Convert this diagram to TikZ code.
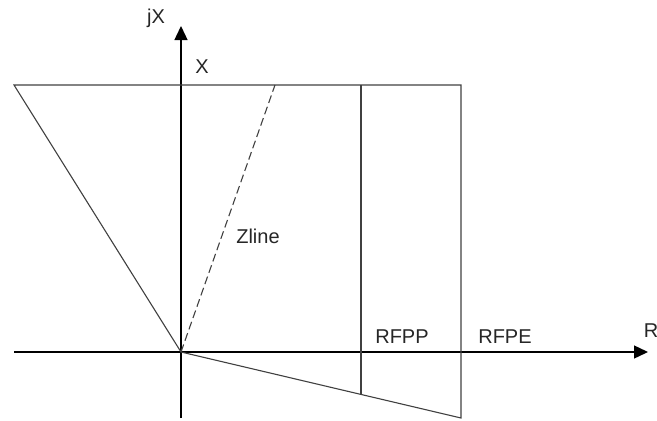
\documentclass[tikz,border=0pt]{standalone}
\usepackage{fontspec}
\setmainfont{Liberation Sans}
\usetikzlibrary{arrows.meta}
\begin{document}
\begin{tikzpicture}[x=1pt,y=-1pt,
  lbl/.style={font=\fontsize{20}{20}\selectfont, text=black!85, inner sep=0pt},
  axis/.style={line width=1.4pt, -{Triangle[length=14pt,width=13pt]}},
  thin/.style={line width=1.1pt, black!75}]
\useasboundingbox (0,0) rectangle (657,421);
\coordinate (O) at (181,352);
\coordinate (xl) at (14,352);
\coordinate (xr) at (648,352);
\coordinate (yb) at (181,418);
\coordinate (yt) at (181,26);
\coordinate (TL) at (14,85);
\coordinate (TR) at (461,85);
\coordinate (P1) at (361,85);
\coordinate (P1b) at (361,394);
\coordinate (BR) at (461,418);
\coordinate (Z) at (275,85);
\draw[axis] (xl) -- (xr);
\draw[axis] (yb) -- (yt);
\draw[thin] (TL) -- (TR) -- (BR) -- (O) -- cycle;
\draw[thin] (P1) -- (P1b);
\draw[thin, dashed, dash pattern=on 8pt off 4pt] (O) -- (Z);
\node[lbl] (jx) at (156,18) {jX};
\node[lbl] (xx) at (202,67) {X};
\node[lbl] (zl) at (258,236) {Zline};
\node[lbl] (rfpp) at (402,337) {RFPP};
\node[lbl] (rfpe) at (505,337) {RFPE};
\node[lbl] (r) at (651,331) {R};
\end{tikzpicture}
\end{document}
